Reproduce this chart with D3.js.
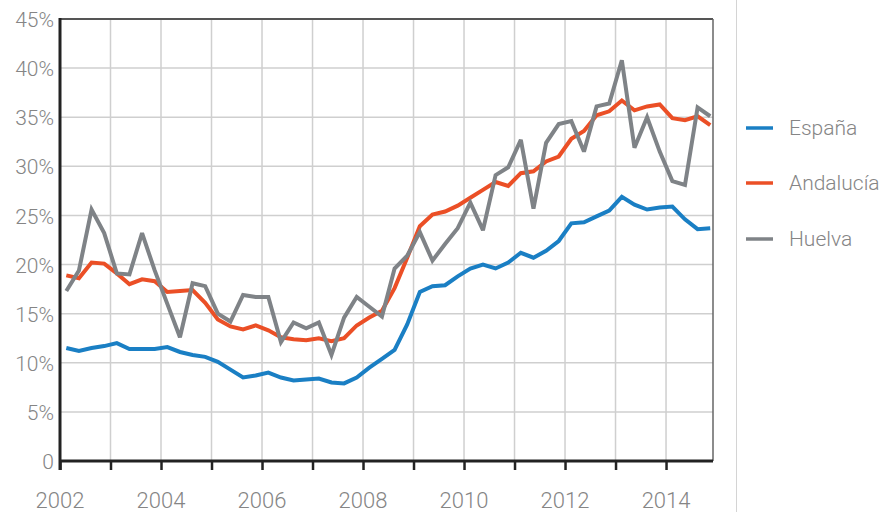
<!DOCTYPE html>
<html>
<head>
<meta charset="utf-8">
<script src="https://cdn.jsdelivr.net/npm/d3@7"></script>
<style>
  html, body { margin: 0; padding: 0; background: #fff; }
  svg { display: block; }
  text { font-family: Roboto, "Open Sans", sans-serif; font-weight: 300; fill: #858585; }
</style>
</head>
<body>
<svg id="chart" width="886" height="512"></svg>
<script>
// Quarterly periods (2002 T1 ... 2014 T4)
const periods = [
  "2002T1","2002T2","2002T3","2002T4","2003T1","2003T2","2003T3","2003T4",
  "2004T1","2004T2","2004T3","2004T4","2005T1","2005T2","2005T3","2005T4",
  "2006T1","2006T2","2006T3","2006T4","2007T1","2007T2","2007T3","2007T4",
  "2008T1","2008T2","2008T3","2008T4","2009T1","2009T2","2009T3","2009T4",
  "2010T1","2010T2","2010T3","2010T4","2011T1","2011T2","2011T3","2011T4",
  "2012T1","2012T2","2012T3","2012T4","2013T1","2013T2","2013T3","2013T4",
  "2014T1","2014T2","2014T3","2014T4"
];
const espana = [
  11.5, 11.2, 11.5, 11.7, 12.0, 11.4, 11.4, 11.4,
  11.6, 11.1, 10.8, 10.6, 10.1, 9.3, 8.5, 8.7,
  9.0, 8.5, 8.2, 8.3, 8.4, 8.0, 7.9, 8.5,
  9.5, 10.4, 11.3, 13.9, 17.2, 17.8, 17.9, 18.8,
  19.6, 20.0, 19.6, 20.2, 21.2, 20.7, 21.4, 22.4,
  24.2, 24.3, 24.9, 25.5, 26.9, 26.1, 25.6, 25.8,
  25.9, 24.6, 23.6, 23.7
];
const andalucia = [
  18.9, 18.6, 20.2, 20.1, 19.1, 18.0, 18.5, 18.3,
  17.2, 17.3, 17.4, 16.1, 14.4, 13.7, 13.4, 13.8,
  13.3, 12.6, 12.4, 12.3, 12.5, 12.2, 12.5, 13.8,
  14.6, 15.3, 17.6, 20.7, 23.9, 25.1, 25.4, 26.0,
  26.8, 27.6, 28.4, 28.0, 29.3, 29.5, 30.5, 31.0,
  32.8, 33.6, 35.2, 35.6, 36.7, 35.7, 36.1, 36.3,
  34.9, 34.7, 35.1, 34.2
];
const huelva = [
  17.3, 19.4, 25.6, 23.2, 19.1, 19.0, 23.2, 19.4,
  16.0, 12.6, 18.1, 17.8, 15.0, 14.2, 16.9, 16.7,
  16.7, 12.1, 14.1, 13.5, 14.1, 10.8, 14.6, 16.7,
  15.7, 14.7, 19.6, 20.9, 23.3, 20.4, 22.1, 23.7,
  26.3, 23.5, 29.1, 29.9, 32.7, 25.7, 32.4, 34.3,
  34.6, 31.5, 36.1, 36.4, 40.8, 31.9, 35.0, 31.5,
  28.5, 28.1, 36.0, 35.1
];
const seriesNames = ["España", "Andalucía", "Huelva"];
const seriesColors = ["#1a7fc4", "#eb4f26", "#7f8387"];
const yTicks = [0, 5, 10, 15, 20, 25, 30, 35, 40, 45];
const xTicks = [2002, 2003, 2004, 2005, 2006, 2007, 2008, 2009, 2010, 2011, 2012, 2013, 2014];
const xLabels = [2002, 2004, 2006, 2008, 2010, 2012, 2014];

const svg = d3.select("#chart");
const pLeft = 60, pRight = 713, pTop = 19, pBottom = 461;

const x = d3.scaleLinear().domain([2002, 2014.93]).range([pLeft, pRight]);
const y = d3.scaleLinear().domain([0, 45]).range([pBottom, pTop]);

// position of a quarter: middle of the quarter
const tPos = p => +p.slice(0, 4) + (+p.slice(5) - 1) * 0.25 + 0.125;

// gridlines
const grid = svg.append("g");
grid.selectAll("line.h").data(yTicks.filter(d => d > 0 && d < 45)).join("line")
  .attr("x1", pLeft).attr("x2", pRight)
  .attr("y1", d => y(d)).attr("y2", d => y(d))
  .attr("stroke", "#cfcfcf").attr("stroke-width", 1.5);
grid.selectAll("line.v").data(xTicks.filter(d => d > 2002)).join("line")
  .attr("x1", d => x(d)).attr("x2", d => x(d))
  .attr("y1", pTop).attr("y2", pBottom)
  .attr("stroke", "#cfcfcf").attr("stroke-width", 1.5);

// top and right border
svg.append("line").attr("x1", pLeft).attr("x2", pRight).attr("y1", pTop).attr("y2", pTop)
  .attr("stroke", "#555").attr("stroke-width", 2);
svg.append("line").attr("x1", pRight).attr("x2", pRight).attr("y1", pTop).attr("y2", pBottom)
  .attr("stroke", "#666").attr("stroke-width", 1.5);

// separator for legend
svg.append("line").attr("x1", 736.5).attr("x2", 736.5).attr("y1", 0).attr("y2", 512)
  .attr("stroke", "#d4d4d4").attr("stroke-width", 1);

// lines
const allSeries = [espana, andalucia, huelva];
const line = d3.line().x((d, i) => x(tPos(periods[i]))).y(d => y(d));
allSeries.forEach((s, k) => {
  svg.append("path").datum(s)
    .attr("d", line)
    .attr("fill", "none")
    .attr("stroke", seriesColors[k])
    .attr("stroke-width", 4)
    .attr("stroke-linejoin", "miter")
    .attr("stroke-miterlimit", 3);
});

// y axis
const yAxis = svg.append("g").attr("transform", `translate(${pLeft},0)`)
  .call(d3.axisLeft(y).tickValues(yTicks).tickSize(0).tickPadding(6)
    .tickFormat(d => d === 0 ? "0" : d + "%"));
yAxis.select(".domain").remove();
yAxis.selectAll("text").style("font-size", "21px").attr("fill", "#858585")
  .attr("font-family", "Roboto, sans-serif").attr("x", -6).attr("dy", "0.36em");

// x axis
const xAxis = svg.append("g").attr("transform", `translate(0,${pBottom})`)
  .call(d3.axisBottom(x).tickValues(xTicks).tickSize(9).tickFormat(""));
xAxis.select(".domain").remove();
xAxis.selectAll("line").attr("stroke", "#222").attr("stroke-width", 2.5);
svg.append("g").selectAll("text").data(xLabels).join("text")
  .attr("x", d => x(d)).attr("y", 508)
  .attr("text-anchor", "middle")
  .style("font-size", "22px")
  .text(d => d);

// axis lines (dark)
svg.append("line").attr("x1", pLeft).attr("x2", pRight).attr("y1", pBottom).attr("y2", pBottom)
  .attr("stroke", "#222").attr("stroke-width", 3);
svg.append("line").attr("x1", pLeft).attr("x2", pLeft).attr("y1", pTop - 1).attr("y2", pBottom + 9)
  .attr("stroke", "#222").attr("stroke-width", 3);

// legend
const legendY = [128, 183, 239];
const lg = svg.append("g");
seriesNames.forEach((n, k) => {
  lg.append("line").attr("x1", 746).attr("x2", 773)
    .attr("y1", legendY[k]).attr("y2", legendY[k])
    .attr("stroke", seriesColors[k]).attr("stroke-width", 3.5);
  lg.append("text").attr("x", 789).attr("y", legendY[k]).attr("dy", "0.35em")
    .style("font-size", "21px").text(n);
});
</script>
</body>
</html>
